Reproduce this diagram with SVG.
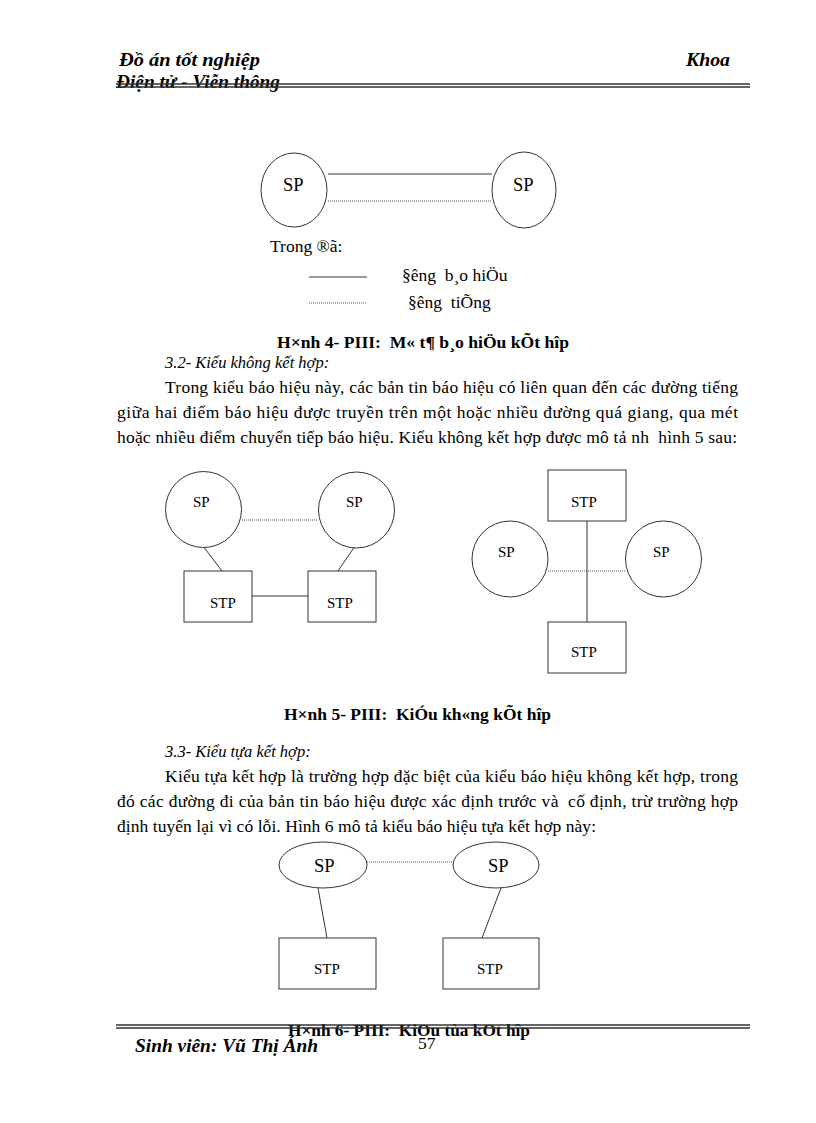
<svg xmlns="http://www.w3.org/2000/svg" width="816" height="1123" viewBox="0 0 816 1123">
<style>
text{white-space:pre}
.t{font-family:"Liberation Serif","Times New Roman",serif;font-size:17.5px;fill:#000}
.lbl{font-family:"Liberation Serif","Times New Roman",serif;font-size:15px;fill:#000}
.big{font-family:"Liberation Serif","Times New Roman",serif;font-size:18.5px;fill:#000}
.leg{font-family:"Liberation Serif","Times New Roman",serif;font-size:17.5px;fill:#000}
.cap{font-family:"Liberation Serif","Times New Roman",serif;font-size:17.5px;font-weight:bold;fill:#000}
.hd{font-family:"Liberation Serif","Times New Roman",serif;font-size:19.5px;font-weight:bold;font-style:italic;fill:#000}
.it{font-family:"Liberation Serif","Times New Roman",serif;font-size:16.5px;font-style:italic;fill:#000}
.shape{fill:#fff;stroke:#333;stroke-width:1}
.solid{stroke:#333;stroke-width:1;fill:none}
.dot{stroke:#555;stroke-width:1;stroke-dasharray:1 1;fill:none}
.rule{stroke:#333;stroke-width:1.3}
</style>
<rect width="816" height="1123" fill="#fff"/>

<!-- header -->
<g id="header">
<text class="hd" x="119" y="66" textLength="141" lengthAdjust="spacingAndGlyphs">Đồ án tốt nghiệp</text>
<text class="hd" x="686" y="66" textLength="44" lengthAdjust="spacingAndGlyphs">Khoa</text>
<text class="hd" x="116" y="88" textLength="164" lengthAdjust="spacingAndGlyphs">Điện tử - Viễn thông</text>
<line class="rule" x1="116" y1="84" x2="750" y2="84"/>
<line class="rule" x1="116" y1="87" x2="750" y2="87"/>
</g>

<!-- Figure 4 -->
<g id="connectors-fig4">
<line class="solid" x1="328" y1="174" x2="492" y2="174"/>
<line class="dot" x1="328" y1="201" x2="492" y2="201"/>
</g>
<g id="fig4-sp1"><ellipse class="shape" cx="294" cy="190" rx="33" ry="37"/><text class="big" x="283" y="191">SP</text></g>
<g id="fig4-sp2"><ellipse class="shape" cx="524" cy="190" rx="32" ry="38"/><text class="big" x="513" y="191">SP</text></g>
<g id="fig4-legend">
<text class="leg" x="270" y="252">Trong ®ã:</text>
<line class="solid" x1="309" y1="277" x2="367" y2="277"/>
<text class="leg" x="402" y="281">§êng  b¸o hiÖu</text>
<line class="dot" x1="309" y1="303" x2="367" y2="303"/>
<text class="leg" x="408" y="308">§êng  tiÕng</text>
</g>
<text class="cap" x="277" y="348" textLength="292" lengthAdjust="spacingAndGlyphs">H×nh 4- PIII:  M« t¶ b¸o hiÖu kÕt hîp</text>

<!-- Section 3.2 -->
<text class="it" x="165" y="368">3.2- Kiểu không kết hợp:</text>
<text class="t" x="165" y="393" textLength="573" lengthAdjust="spacing">Trong kiểu báo hiệu này, các bản tin báo hiệu có liên quan đến các đường tiếng</text>
<text class="t" x="117" y="418" textLength="621" lengthAdjust="spacing">giữa hai điểm báo hiệu được truyền trên một hoặc nhiều đường quá giang, qua mét</text>
<text class="t" x="117" y="443" textLength="620" lengthAdjust="spacing">hoặc nhiều điểm chuyển tiếp báo hiệu. Kiểu không kết hợp được mô tả nh  hình 5 sau:</text>

<!-- Figure 5 -->
<g id="connectors-fig5">
<line class="dot" x1="242" y1="520" x2="318" y2="520"/>
<line class="solid" x1="203" y1="546" x2="222" y2="571"/>
<line class="solid" x1="355" y1="546" x2="338" y2="571"/>
<line class="solid" x1="252" y1="596" x2="308" y2="596"/>
<line class="solid" x1="587" y1="521" x2="587" y2="622"/>
<line class="dot" x1="548" y1="571" x2="625" y2="571"/>
</g>
<g id="fig5a-sp1"><circle class="shape" cx="203.5" cy="509.5" r="38"/><text class="lbl" x="193" y="507">SP</text></g>
<g id="fig5a-sp2"><circle class="shape" cx="356.5" cy="510" r="38"/><text class="lbl" x="346" y="507">SP</text></g>
<g id="fig5a-stp1"><rect class="shape" x="184" y="571" width="68" height="51"/><text class="lbl" x="210" y="608">STP</text></g>
<g id="fig5a-stp2"><rect class="shape" x="308" y="571" width="68" height="51"/><text class="lbl" x="327" y="608">STP</text></g>
<g id="fig5b-stp1"><rect class="shape" x="548" y="470" width="78" height="51"/><text class="lbl" x="571" y="507">STP</text></g>
<g id="fig5b-stp2"><rect class="shape" x="548" y="622" width="78" height="51"/><text class="lbl" x="571" y="657">STP</text></g>
<g id="fig5b-sp1"><circle class="shape" cx="510" cy="559" r="38"/><text class="lbl" x="498" y="557">SP</text></g>
<g id="fig5b-sp2"><circle class="shape" cx="663.5" cy="559" r="38"/><text class="lbl" x="653" y="557">SP</text></g>
<text class="cap" x="284" y="720" textLength="267" lengthAdjust="spacingAndGlyphs">H×nh 5- PIII:  KiÓu kh«ng kÕt hîp</text>

<!-- Section 3.3 -->
<text class="it" x="165" y="757">3.3- Kiểu tựa kết hợp:</text>
<text class="t" x="165" y="782" textLength="573" lengthAdjust="spacing">Kiểu tựa kết hợp là trường hợp đặc biệt của kiểu báo hiệu không kết hợp, trong</text>
<text class="t" x="117" y="807" textLength="621" lengthAdjust="spacing">đó các đường đi của bản tin báo hiệu được xác định trước và  cố định, trừ trường hợp</text>
<text class="t" x="117" y="832" textLength="479" lengthAdjust="spacing">định tuyến lại vì có lỗi. Hình 6 mô tả kiểu báo hiệu tựa kết hợp này:</text>

<!-- Figure 6 -->
<g id="connectors-fig6">
<line class="dot" x1="367" y1="862" x2="453" y2="862"/>
<line class="solid" x1="318" y1="888" x2="327" y2="938"/>
<line class="solid" x1="501" y1="888" x2="482" y2="938"/>
</g>
<g id="fig6-sp1"><ellipse class="shape" cx="323" cy="865" rx="44" ry="23"/><text class="big" x="314" y="872" font-size="17">SP</text></g>
<g id="fig6-sp2"><ellipse class="shape" cx="496" cy="865" rx="43" ry="23"/><text class="big" x="488" y="872" font-size="17">SP</text></g>
<g id="fig6-stp1"><rect class="shape" x="279" y="938" width="97" height="51"/><text class="lbl" x="314" y="974" font-size="16">STP</text></g>
<g id="fig6-stp2"><rect class="shape" x="443" y="938" width="96" height="51"/><text class="lbl" x="477" y="974" font-size="16">STP</text></g>

<!-- footer -->
<g id="footer">
<text class="cap" x="288" y="1036" textLength="242" lengthAdjust="spacingAndGlyphs">H×nh 6- PIII:  KiÓu tùa kÕt hîp</text>
<rect x="116" y="1018" width="634" height="6" fill="#fff"/>
<line class="rule" x1="116" y1="1025" x2="750" y2="1025"/>
<line class="rule" x1="116" y1="1028" x2="750" y2="1028"/>
<text class="hd" x="135" y="1052" textLength="183" lengthAdjust="spacingAndGlyphs">Sinh viên: Vũ Thị Ánh</text>
<text class="leg" x="418" y="1049" font-size="17">57</text>
</g>
</svg>
